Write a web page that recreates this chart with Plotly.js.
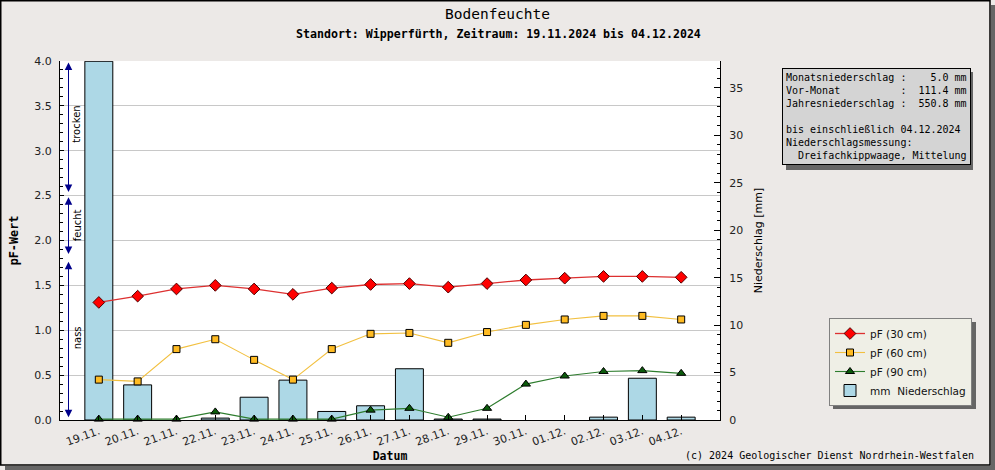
<!DOCTYPE html>
<html>
<head>
<meta charset="utf-8">
<script src="https://cdn.plot.ly/plotly-3.0.1.min.js"></script>
<style>
  html, body { margin: 0; padding: 0; background: #ffffff; }
  #chart { width: 995px; height: 470px; }
</style>
</head>
<body>
<div id="chart"></div>
<script>
// ---- data ----
const categories = ['19.11.', '20.11.', '21.11.', '22.11.', '23.11.', '24.11.', '25.11.', '26.11.',
                    '27.11.', '28.11.', '29.11.', '30.11.', '01.12.', '02.12.', '03.12.', '04.12.'];
const pF30 = [1.31, 1.38, 1.46, 1.50, 1.46, 1.40, 1.47, 1.51, 1.52, 1.48, 1.52, 1.56, 1.58, 1.60, 1.60, 1.59];
const pF60 = [0.45, 0.43, 0.79, 0.90, 0.67, 0.45, 0.79, 0.96, 0.97, 0.86, 0.98, 1.06, 1.12, 1.16, 1.16, 1.12];
const pF90 = [0.01, 0.01, 0.01, 0.09, 0.01, 0.01, 0.01, 0.11, 0.13, 0.03, 0.13, 0.40, 0.49, 0.54, 0.55, 0.52];
const rain = [37.8, 3.7, 0, 0.2, 2.4, 4.2, 0.9, 1.5, 5.4, 0.1, 0.1, 0, 0, 0.3, 4.4, 0.3];

const seriesNames = ['pF (30 cm)', 'pF (60 cm)', 'pF (90 cm)', 'mm\u00a0\u00a0Niederschlag'];

const infoLines = [
  'Monatsniederschlag :    5.0 mm',
  'Vor-Monat          :  111.4 mm',
  'Jahresniederschlag :  550.8 mm',
  ' ',
  'bis einschließlich 04.12.2024',
  'Niederschlagsmessung:',
  '  Dreifachkippwaage, Mittelung'
];

// moisture zones: [label, from pF, to pF, label pF]
const zones = [
  ['trocken', 4.0, 2.54, 3.29],
  ['feucht', 2.50, 1.85, 2.17],
  ['nass', 1.78, 0.03, 0.91]
];

// ---- geometry helpers (plot area 60..720 x 61..420 px) ----
const PL = 60, PR = 720, PT = 61, PB = 420;
const px = x => (x - PL) / (PR - PL);
const py = y => (PB - y) / (PB - PT);

const mono = 'DejaVu Sans Mono, monospace';
const sans = 'DejaVu Sans, sans-serif';

const traces = [
  {
    type: 'bar', x: categories, y: rain, yaxis: 'y', name: seriesNames[3], legendrank: 4,
    width: 0.72,
    marker: { color: '#ADD8E6', line: { color: '#000000', width: rain.map(v => v > 0 ? 1 : 0) } },
    hoverinfo: 'skip'
  },
  {
    type: 'scatter', mode: 'lines+markers', x: categories, y: pF30, yaxis: 'y2', name: seriesNames[0], legendrank: 1,
    line: { color: '#DD3030', width: 1.3 },
    marker: { symbol: 'diamond', size: 9, color: '#FF0000', line: { color: '#500000', width: 1 } },
    cliponaxis: false
  },
  {
    type: 'scatter', mode: 'lines+markers', x: categories, y: pF60, yaxis: 'y2', name: seriesNames[1], legendrank: 2,
    line: { color: '#F2C040', width: 1.1 },
    marker: { symbol: 'square', size: 7, color: '#FFBB22', line: { color: '#000000', width: 1 } },
    cliponaxis: false
  },
  {
    type: 'scatter', mode: 'lines+markers', x: categories, y: pF90, yaxis: 'y2', name: seriesNames[2], legendrank: 3,
    line: { color: '#2E7D2E', width: 1.1 },
    marker: { symbol: 'triangle-up', size: 8, color: '#0B5A0B', line: { color: '#000000', width: 1 } },
    cliponaxis: false
  }
];

const annotations = [];
annotations.push({
  xref: 'paper', yref: 'paper', x: px(498), y: py(34), xanchor: 'center', yanchor: 'middle',
  text: '<b>Standort: Wipperfürth, Zeitraum: 19.11.2024 bis 04.12.2024</b>',
  showarrow: false, font: { family: mono, size: 11.6, color: '#000' }
});
annotations.push({
  xref: 'paper', yref: 'paper', x: px(782), y: py(68), xanchor: 'left', yanchor: 'top',
  text: infoLines.map(s => s.replace(/ /g, '\u00a0')).join('<br>'),
  align: 'left', showarrow: false,
  font: { family: mono, size: 10, color: '#000' },
  bgcolor: '#D4D4D4', bordercolor: '#000000', borderwidth: 1, borderpad: 3
});
annotations.push({
  xref: 'paper', yref: 'paper', x: px(976), y: py(455), xanchor: 'right', yanchor: 'middle',
  text: '(c) 2024 Geologischer Dienst Nordrhein-Westfalen',
  showarrow: false, font: { family: mono, size: 10, color: '#000' }
});
zones.forEach(z => {
  annotations.push({
    xref: 'paper', yref: 'y2', x: px(68.5), y: z[2],
    axref: 'pixel', ayref: 'y2', ax: 0, ay: z[1],
    text: '', showarrow: true, arrowhead: 2, arrowside: 'end+start',
    arrowsize: 1.5, arrowwidth: 1, arrowcolor: '#00008B', standoff: 0, startstandoff: 0
  });
  annotations.push({
    xref: 'paper', yref: 'y2', x: px(77), y: z[3], xanchor: 'center', yanchor: 'middle',
    text: z[0], textangle: -90, showarrow: false,
    font: { family: sans, size: 10, color: '#000' }
  });
});

function rect(x0, y0, x1, y1, fill, line, lw) {
  return {
    type: 'rect', xref: 'paper', yref: 'paper', layer: 'above',
    x0: px(x0), x1: px(x1), y0: py(y0), y1: py(y1),
    fillcolor: fill || 'rgba(0,0,0,0)',
    line: { color: line || 'rgba(0,0,0,0)', width: lw || 0 }
  };
}

const shapes = [
  rect(991, 5, 995, 470, '#666666'),
  rect(5, 466, 995, 470, '#666666'),
  rect(0.75, 0.75, 990, 465, null, '#000000', 1.5),
  rect(786, 72, 973, 170, '#666666'),
  rect(833, 322, 976, 409, '#666666')
];

const layout = {
  width: 995, height: 470,
  margin: { l: PL, r: 995 - PR, t: PT, b: 470 - PB, pad: 0 },
  paper_bgcolor: '#ECE9E7',
  plot_bgcolor: '#FFFFFF',
  title: {
    text: 'Bodenfeuchte', xref: 'container', yref: 'container', x: 0.5, y: 1 - 14 / 470,
    xanchor: 'center', yanchor: 'middle',
    font: { family: mono, size: 14.5, color: '#000' }
  },
  showlegend: true,
  legend: {
    x: px(829), y: py(318), xanchor: 'left', yanchor: 'top',
    bgcolor: '#EFEFE6', bordercolor: '#808080', borderwidth: 1,
    font: { family: sans, size: 10.5, color: '#111' },
    traceorder: 'normal', tracegroupgap: 0, itemwidth: 30
  },
  xaxis: {
    type: 'category', range: [-1, 16], showgrid: false, zeroline: false,
    showline: true, linecolor: '#000', linewidth: 1,
    ticks: 'inside', ticklen: 5, tickcolor: '#000',
    tickangle: -20, tickfont: { family: sans, size: 11, color: '#222' },
    title: { text: '<b>Datum</b>', font: { family: mono, size: 11.5, color: '#000' }, standoff: 0 }
  },
  yaxis: {
    side: 'right', range: [0, 37.83], dtick: 5, tick0: 0,
    showgrid: false, zeroline: false,
    showline: true, linecolor: '#000', linewidth: 1,
    ticks: 'inside', ticklen: 6, tickcolor: '#000',
    minor: { dtick: 1, ticks: 'inside', ticklen: 3, tickcolor: '#000', showgrid: false },
    tickfont: { family: sans, size: 11, color: '#222' }, ticklabelstandoff: 6,
    title: { text: 'Niederschlag [mm]', font: { family: sans, size: 11, color: '#000' }, standoff: 12 }
  },
  yaxis2: {
    overlaying: 'y', side: 'left', range: [0, 4.0], dtick: 0.5, tick0: 0, tickformat: '.1f',
    showgrid: true, gridcolor: '#C8C8C8', gridwidth: 1, zeroline: false,
    showline: true, linecolor: '#000', linewidth: 1,
    ticks: 'inside', ticklen: 4, tickcolor: '#000',
    minor: { dtick: 0.1, ticks: 'inside', ticklen: 2.5, tickcolor: '#000', showgrid: false },
    tickfont: { family: sans, size: 11, color: '#222' }, ticklabelstandoff: 5,
    title: { text: '<b>pF-Wert</b>', font: { family: mono, size: 11.8, color: '#000' }, standoff: 13 }
  },
  bargap: 0.28,
  annotations: annotations,
  shapes: shapes
};

Plotly.newPlot('chart', traces, layout, { displayModeBar: false, staticPlot: true });
</script>
</body>
</html>
